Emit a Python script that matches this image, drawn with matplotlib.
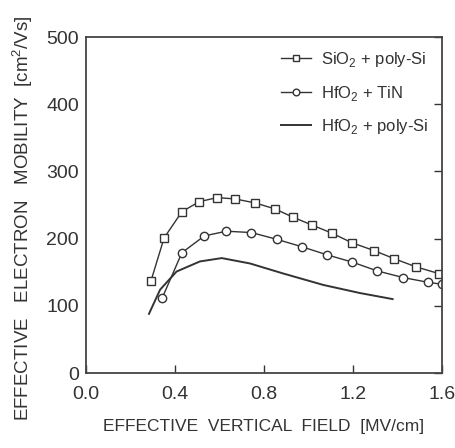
import numpy as np
import matplotlib
matplotlib.use('Agg')
import matplotlib.pyplot as plt

# SiO2 + poly-Si (squares)
x_sio2 = [0.292, 0.351, 0.431, 0.509, 0.590, 0.671, 0.761, 0.851, 0.929, 1.017,
          1.106, 1.194, 1.296, 1.386, 1.483, 1.585]
y_sio2 = [137, 201, 240, 255, 261, 259, 253, 244, 232, 220,
          208, 194, 182, 170, 158, 148]

# HfO2 + TiN (circles)
x_tin = [0.343, 0.431, 0.532, 0.631, 0.743, 0.857, 0.969, 1.082, 1.197, 1.308,
         1.426, 1.537, 1.60]
y_tin = [112, 179, 204, 211, 209, 199, 188, 176, 165, 152, 142, 135, 132]

# HfO2 + poly-Si (solid line)
x_hfo = [0.283, 0.333, 0.407, 0.512, 0.61, 0.737, 0.887, 1.067, 1.231, 1.378]
y_hfo = [88, 124, 151, 166, 171, 163, 148, 131, 119, 110]

xticks = [0.0, 0.4, 0.8, 1.2, 1.6]
yticks = [0, 100, 200, 300, 400, 500]

plt.rcParams['font.family'] = ['Liberation Sans', 'DejaVu Sans']
plt.rcParams['mathtext.fontset'] = 'custom'
plt.rcParams['mathtext.rm'] = 'Liberation Sans'
col = '#333333'

fig = plt.figure(figsize=(4.56, 4.48), dpi=100)
ax = fig.add_axes([86/456, 1 - 373/448, (442 - 86)/456, (373 - 37)/448])

ax.plot(x_sio2, y_sio2, color=col, lw=1.0, marker='s', ms=5.5, mfc='white',
        mec=col, mew=1.0, label='SiO$_\\mathrm{2}$ + poly-Si')
ax.plot(x_tin, y_tin, color=col, lw=1.0, marker='o', ms=6, mfc='white',
        mec=col, mew=1.0, label='HfO$_\\mathrm{2}$ + TiN')
ax.plot(x_hfo, y_hfo, color=col, lw=1.4, label='HfO$_\\mathrm{2}$ + poly-Si')

ax.set_xlim(0, 1.6)
ax.set_ylim(0, 500)
ax.set_xticks(xticks)
ax.set_xticklabels(['%.1f' % v for v in xticks])
ax.set_yticks(yticks)
ax.tick_params(axis='both', direction='in', length=6, width=1, colors=col,
               labelsize=14, left=False, right=True, labelright=False)
ax.tick_params(axis='y', pad=5)
ax.tick_params(axis='x', pad=9)
for s in ax.spines.values():
    s.set_color('#444444')
    s.set_linewidth(1.3)

ax.set_xlabel('EFFECTIVE  VERTICAL  FIELD  [MV/cm]', fontsize=12.5, color=col,
              labelpad=12)
ax.set_ylabel('EFFECTIVE   ELECTRON   MOBILITY  [cm$^\\mathrm{2}$/Vs]', fontsize=13.5,
              color=col)
ax.yaxis.set_label_coords(-0.142, 0.46)

leg = ax.legend(loc='upper right', frameon=False, fontsize=12, handlelength=1.8,
                handletextpad=0.6, markerscale=0.8, labelspacing=0.85,
                borderaxespad=0.4)
for t in leg.get_texts():
    t.set_color(col)

fig.savefig('out.png', dpi=100)
